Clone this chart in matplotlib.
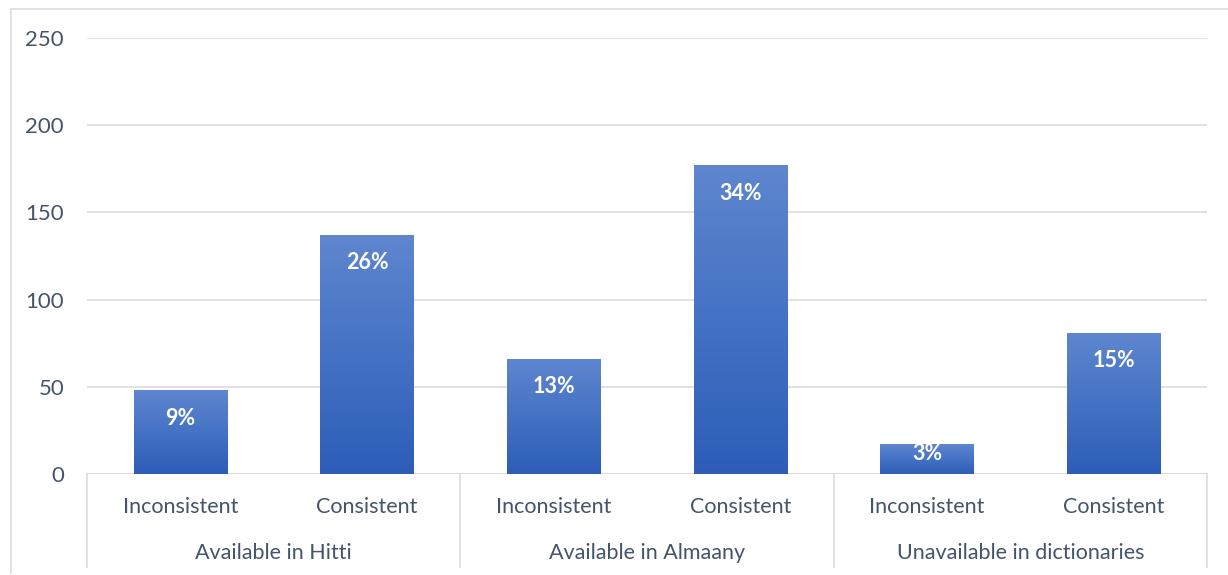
import matplotlib.pyplot as plt
import numpy as np
from matplotlib.patches import Rectangle
from matplotlib.lines import Line2D
from matplotlib.colors import LinearSegmentedColormap

# data
groups = ["Available in Hitti", "Available in Almaany", "Unavailable in dictionaries"]
subcats = ["Inconsistent", "Consistent"]
values = [48, 137, 66, 177, 17, 81]
labels = ["9%", "26%", "13%", "34%", "3%", "15%"]

text_col = "#44546A"
grid_col = "#D9DCE1"

plt.rcParams['font.family'] = ['Lato', 'DejaVu Sans']

fig = plt.figure(figsize=(12.28, 5.75), dpi=100)
ax = fig.add_axes([87 / 1228, 101 / 575, 1120 / 1228, 436 / 575])

# outer chart border (left + top only visible)
fig.add_artist(Line2D([11 / 1228, 11 / 1228], [2 / 575, 566 / 575], color=grid_col, lw=1.2))
fig.add_artist(Line2D([11 / 1228, 1.0], [566 / 575, 566 / 575], color=grid_col, lw=1.2))

x = np.arange(len(values))
bars = ax.bar(x, values, width=0.5, color="none", zorder=3)

# vertical gradient fill for each bar
grad = np.linspace(0, 1, 256).reshape(-1, 1)
cmap = LinearSegmentedColormap.from_list("g", ["#2E5DB8", "#4472C4", "#5F86CF"])
for b in bars:
    x0, w, h = b.get_x(), b.get_width(), b.get_height()
    im = ax.imshow(grad, extent=[x0, x0 + w, 0, h], origin="lower", cmap=cmap,
                   aspect="auto", zorder=3)
    clip = Rectangle((x0, 0), w, h, transform=ax.transData)
    im.set_clip_path(clip)

for xi, v, lab in zip(x, values, labels):
    off = 16 if v > 30 else 5.5
    ax.text(xi, v - off, lab, ha="center", va="center", color="white",
            fontsize=15.5, fontweight="bold", zorder=4)

ax.set_xlim(-0.5, len(values) - 0.5)
ax.set_ylim(0, 250)
ax.set_yticks([0, 50, 100, 150, 200, 250])
ax.tick_params(axis="y", length=0, labelsize=16, labelcolor=text_col, pad=16.5)
ax.set_xticks([])
ax.yaxis.grid(True, color=grid_col, lw=1.2, zorder=0)
for s in ax.spines.values():
    s.set_visible(False)
ax.axhline(0, color=grid_col, lw=1.2, zorder=2)

# category axis: subcategory labels, group labels and separators
trans = ax.get_xaxis_transform()
for i, xi in enumerate(x):
    ax.text(xi, -33 / 436, subcats[i % 2], transform=trans, ha="center", va="center",
            fontsize=15.5, color=text_col)
for g, name in enumerate(groups):
    ax.text(2 * g + 0.5, -79 / 436, name, transform=trans, ha="center", va="center",
            fontsize=15.5, color=text_col)
for sep in [-0.5, 1.5, 3.5, 5.5]:
    ax.add_line(Line2D([sep, sep], [0, -93 / 436], transform=trans, color=grid_col,
                       lw=1.2, clip_on=False))

fig.savefig("out.png", dpi=100)
